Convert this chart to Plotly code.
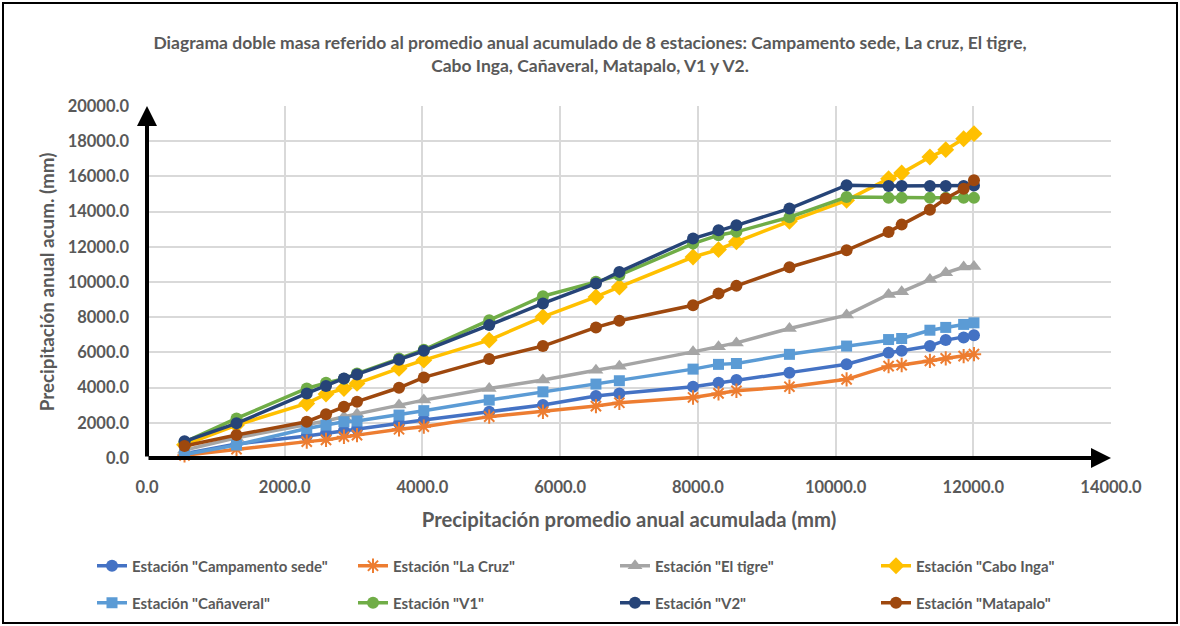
import plotly.graph_objects as go

# Cumulative mean annual precipitation of the 8 stations (mm)
x_acum = [545, 1300, 2320, 2600, 2860, 3050, 3660, 4020, 4970, 5750, 6520, 6860,
          7930, 8300, 8560, 9330, 10160, 10770, 10960, 11370, 11600, 11860, 12010]

# Cumulative annual precipitation per station (mm)
campamento = [250, 800, 1250, 1400, 1550, 1650, 1970, 2160, 2630, 3010, 3520, 3670,
              4050, 4270, 4430, 4850, 5330, 5980, 6090, 6360, 6700, 6850, 6980]
la_cruz = [150, 500, 930, 1030, 1210, 1300, 1630, 1780, 2350, 2630, 2950, 3140,
           3440, 3670, 3820, 4050, 4470, 5220, 5280, 5520, 5660, 5790, 5900]
el_tigre = [450, 1150, 1900, 2100, 2350, 2500, 3010, 3290, 3950, 4430, 4990, 5220,
            6030, 6320, 6540, 7360, 8120, 9290, 9440, 10140, 10520, 10850, 10880]
cabo_inga = [750, 1870, 3100, 3630, 3950, 4240, 5090, 5560, 6700, 8020, 9150, 9720,
             11420, 11840, 12280, 13450, 14640, 15870, 16190, 17100, 17520, 18140, 18430]
canaveral = [200, 740, 1680, 1870, 2060, 2100, 2440, 2690, 3290, 3760, 4200, 4390,
             5050, 5320, 5370, 5890, 6360, 6730, 6790, 7260, 7420, 7590, 7680]
v1 = [900, 2250, 3950, 4270, 4500, 4800, 5650, 6150, 7830, 9190, 10010, 10390,
      12180, 12660, 12850, 13680, 14830, 14780, 14780, 14780, 14780, 14780, 14780]
v2 = [950, 1970, 3670, 4090, 4520, 4750, 5580, 6090, 7550, 8780, 9915, 10575,
      12470, 12940, 13220, 14170, 15500, 15450, 15450, 15450, 15450, 15450, 15480]
matapalo = [680, 1305, 2060, 2480, 2910, 3200, 3990, 4580, 5620, 6360, 7420, 7800,
            8680, 9350, 9780, 10840, 11800, 12840, 13260, 14110, 14740, 15300, 15780]

x_ticks = [0, 2000, 4000, 6000, 8000, 10000, 12000, 14000]
y_ticks = [0, 2000, 4000, 6000, 8000, 10000, 12000, 14000, 16000, 18000, 20000]

series = [
    ('Estación "Campamento sede"', campamento, "#4472C4", "circle", 12),
    ('Estación "La Cruz"', la_cruz, "#ED7D31", "asterisk-open", 12),
    ('Estación "El tigre"', el_tigre, "#A5A5A5", "triangle-up", 13),
    ('Estación "Cabo Inga"', cabo_inga, "#FFC000", "diamond", 13),
    ('Estación "Cañaveral"', canaveral, "#5B9BD5", "square", 11),
    ('Estación "V1"', v1, "#70AD47", "circle", 12),
    ('Estación "V2"', v2, "#264478", "circle", 12),
    ('Estación "Matapalo"', matapalo, "#9E480E", "circle", 12),
]

W, H = 1180, 626
ML, MR, MT, MB = 147, 69, 106, 168
FONT = "Lato, Liberation Sans, Arial, sans-serif"
GRAY_TXT = "#595959"

# Legend grid: 4 columns x 2 rows, one legend box per entry
LEG_COL_X = [92, 353, 615, 876]
LEG_ROW_Y = [566, 603]

fig = go.Figure()
legend_layouts = {}
for i, (name, ys, color, sym, size) in enumerate(series):
    leg_id = "legend" if i == 0 else f"legend{i + 1}"
    mline = dict(width=2, color=color) if sym == "asterisk-open" else dict(width=0)
    fig.add_trace(go.Scatter(
        x=x_acum, y=ys, name=name, mode="lines+markers",
        line=dict(color=color, width=3.5),
        marker=dict(symbol=sym, size=size, color=color, line=mline),
        legend=leg_id, showlegend=True, cliponaxis=False,
    ))
    legend_layouts[leg_id] = dict(
        orientation="h", xref="container", yref="container",
        x=LEG_COL_X[i % 4] / W, y=1 - LEG_ROW_Y[i // 4] / H,
        xanchor="left", yanchor="middle",
        font=dict(family=FONT, size=15, color=GRAY_TXT, weight="bold"),
        bgcolor="rgba(0,0,0,0)", itemclick=False, itemdoubleclick=False,
    )

fig.update_layout(
    width=W, height=H, autosize=False, showlegend=True,
    margin=dict(l=ML, r=MR, t=MT, b=MB),
    paper_bgcolor="white", plot_bgcolor="white",
    title=dict(
        text="Diagrama doble masa referido al promedio anual acumulado de 8 estaciones: "
             "Campamento sede, La cruz, El tigre,<br>Cabo Inga, Cañaveral, Matapalo, V1 y V2.",
        x=0.5, xanchor="center", xref="container",
        y=1 - 49 / H, yanchor="middle", yref="container",
        font=dict(family=FONT, size=17.5, color=GRAY_TXT, weight="bold"),
    ),
    xaxis=dict(
        range=[0, 14000], tickvals=x_ticks, tickformat=".1f",
        showgrid=True, gridcolor="#D9D9D9", gridwidth=1.5,
        zeroline=False, showline=False, ticks="", ticklabelstandoff=17,
        tickfont=dict(family=FONT, size=16.5, color=GRAY_TXT, weight="bold"),
        title=dict(text="Precipitación promedio anual acumulada (mm)", standoff=17,
                   font=dict(family=FONT, size=20.3, color=GRAY_TXT, weight="bold")),
    ),
    yaxis=dict(
        range=[0, 20000], tickvals=y_ticks, tickformat=".1f",
        showgrid=True, gridcolor="#D9D9D9", gridwidth=1.5,
        zeroline=False, showline=False, ticks="", ticklabelstandoff=17,
        tickfont=dict(family=FONT, size=16.5, color=GRAY_TXT, weight="bold"),
        title=dict(text="Precipitación anual acum. (mm)", standoff=8,
                   font=dict(family=FONT, size=18.8, color=GRAY_TXT, weight="bold")),
    ),
    **legend_layouts,
)

# Axis arrows drawn from the origin along both axes
for tx, ty in [(x_ticks[-1], 0), (0, y_ticks[-1])]:
    fig.add_annotation(
        x=tx, y=ty, ax=0, ay=0, xref="x", yref="y", axref="x", ayref="y",
        text="", showarrow=True, arrowhead=2, arrowsize=1.0, arrowwidth=4,
        arrowcolor="black",
    )

# Outer frame around the whole chart
pw, ph = W - ML - MR, H - MT - MB
fig.add_shape(
    type="rect", xref="paper", yref="paper",
    x0=(3 - ML) / pw, x1=(W - 3 - ML) / pw,
    y0=-(H - 3 - MT - ph) / ph, y1=1 + (MT - 3) / ph,
    line=dict(color="black", width=2), fillcolor="rgba(0,0,0,0)", layer="below",
)

fig.write_html("out.html")
